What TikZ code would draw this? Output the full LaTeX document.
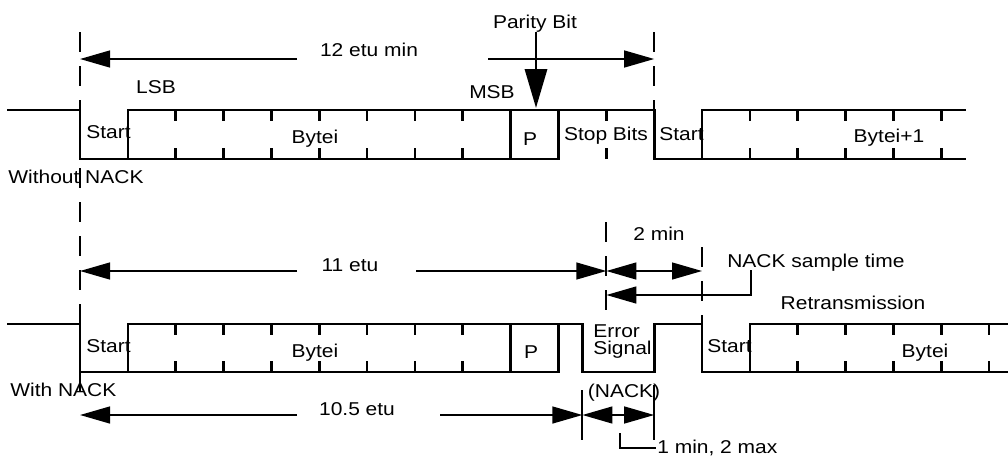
\documentclass[tikz,border=0pt]{standalone}
\usepackage{fontspec}
\setmainfont{Liberation Sans}
\usetikzlibrary{arrows.meta}

\begin{document}
\begin{tikzpicture}[x=0.025cm,y=-0.025cm,>={Triangle[length=0.75cm,width=0.42cm]},
  sig/.style={line width=1.9pt},
  dim/.style={line width=1.4pt},
  guide/.style={line width=1.4pt,dash pattern=on 0.5cm off 0.35cm},
  lbl/.style={font=\fontsize{13.2}{15}\selectfont,inner sep=0pt,xscale=1.13}]
\useasboundingbox (0,0) rectangle (1008,456);

\coordinate (G0) at (80,32);
\coordinate (G1) at (80,397);
\coordinate (G2) at (654.2,32);
\coordinate (G3) at (654.2,110);
\coordinate (G4) at (606.35,222);
\coordinate (G5) at (606.35,324);
\coordinate (G6) at (702.05,247);
\coordinate (G7) at (702.05,324);
\coordinate (L0) at (80,59);
\coordinate (L1) at (297,59);
\coordinate (L2) at (488,59);
\coordinate (L3) at (654.2,59);
\coordinate (PB) at (536,108);
\coordinate (M0) at (80,271);
\coordinate (M1) at (297,271);
\coordinate (M2) at (416,271);
\coordinate (M3) at (606.35,271);
\coordinate (M4) at (702.05,271);
\coordinate (S0) at (751,270);
\coordinate (S1) at (751,295);
\coordinate (S2) at (606.35,295);
\coordinate (N0) at (80,415);
\coordinate (N1) at (297,415);
\coordinate (N2) at (440,415);
\coordinate (N3) at (582.4,415);
\coordinate (N4) at (654.2,415);
\coordinate (B0) at (582.4,390);
\coordinate (B1) at (582.4,440);
\coordinate (B2) at (654.2,385);
\coordinate (B3) at (654.2,440);
\coordinate (K0) at (620,433);
\coordinate (K1) at (620,448);
\coordinate (K2) at (656,448);

% guide lines
\draw[guide] (G0) -- (G1);
\draw[guide] (G2) -- (G3);
\draw[guide] (G4) -- (G5);
\draw[guide] (G6) -- (G7);

% without NACK
\draw[sig] (7,110) -- (80,110) -- (80,159) -- (558.5,159) -- (558.5,110);
\draw[sig] (127.85,159) -- (127.85,110) -- (654.2,110) -- (654.2,159) -- (966,159);
\draw[sig] (510.65,110) -- (510.65,159);
\draw[sig] (702.05,159) -- (702.05,110) -- (966,110);
\foreach \t in {175.7,223.55,271.4,319.25,367.1,414.95,462.8,606.35,749.9,797.75,845.6,893.45,941.3}
{
  \draw[sig] (\t,110) -- +(0,11) (\t,159) -- +(0,-11);
}

% with NACK
\draw[sig] (7,324) -- (80,324) -- (80,372) -- (558.5,372) -- (558.5,324);
\draw[sig] (127.85,372) -- (127.85,324) -- (582.4,324) -- (582.4,372) -- (654.2,372) -- (654.2,324) -- (702.05,324) -- (702.05,372) -- (1008,372);
\draw[sig] (510.65,324) -- (510.65,372);
\draw[sig] (749.9,372) -- (749.9,324) -- (1008,324);
\foreach \t in {175.7,223.55,271.4,319.25,367.1,414.95,462.8,797.75,845.6,893.45,941.3,989.15}
{
  \draw[sig] (\t,324) -- +(0,11) (\t,372) -- +(0,-11);
}

\node[lbl,anchor=base] (par) at (535,28) {Parity Bit};
\node[lbl,anchor=base] (etu12) at (369,56) {12 etu min};
\node[lbl,anchor=base] (lsb) at (156,93) {LSB};
\node[lbl,anchor=base] (msb) at (492,98) {MSB};
\node[lbl,anchor=base west] (start1) at (86,138) {Start};
\node[lbl,anchor=base] (byte1) at (315,143) {Bytei};
\node[lbl,anchor=base] (p1) at (530,145) {P};
\node[lbl,anchor=base] (stop) at (606,140) {Stop Bits};
\node[lbl,anchor=base west] (start2) at (659,140) {Start};
\node[lbl,anchor=base] (byte2) at (889,142) {Bytei+1};
\node[lbl,anchor=base west] (without) at (8,183) {Without NACK};
\node[lbl,anchor=base] (etu11) at (350,271) {11 etu};
\node[lbl,anchor=base] (twomin) at (659,240) {2 min};
\node[lbl,anchor=base west] (sample) at (727,267) {NACK sample time};
\node[lbl,anchor=base] (retrans) at (853,309) {Retransmission};
\node[lbl,anchor=base west] (start3) at (86,352) {Start};
\node[lbl,anchor=base] (byte3) at (315,357) {Bytei};
\node[lbl,anchor=base] (p2) at (531,358) {P};
\node[lbl,anchor=base west] (err) at (593,337) {Error};
\node[lbl,anchor=base west] (signal) at (593,354.5) {Signal};
\node[lbl,anchor=base west] (start4) at (707,352) {Start};
\node[lbl,anchor=base] (byte4) at (925,357) {Bytei};
\node[lbl,anchor=base west] (with) at (10,396) {With NACK};
\node[lbl,anchor=base] (etu105) at (357,415) {10.5 etu};
\node[lbl,anchor=base] (nack) at (624,397) {(NACK)};
\node[lbl,anchor=base west] (minmax) at (657,453) {1 min, 2 max};

% dimensions
\draw[dim,->] (L1) -- (L0);
\draw[dim,->] (L2) -- (L3);
\draw[line width=2.1pt,-{Triangle[length=0.97cm,width=0.55cm]}] (par.south -| PB) -- (PB);
\draw[dim,->] (M1) -- (M0);
\draw[dim,->] (M2) -- (M3);
\draw[dim,<->] (M3) -- (M4);
\draw[dim,->] (S0) -- (S1) -- (S2);
\draw[dim,->] (N1) -- (N0);
\draw[dim,->] (N2) -- (N3);
\draw[dim,<->] (N3) -- (N4);
\draw[dim] (B0) -- (B1);
\draw[dim] (B2) -- (B3);
\draw[dim] (K0) -- (K1) -- (K2);
\end{tikzpicture}
\end{document}
